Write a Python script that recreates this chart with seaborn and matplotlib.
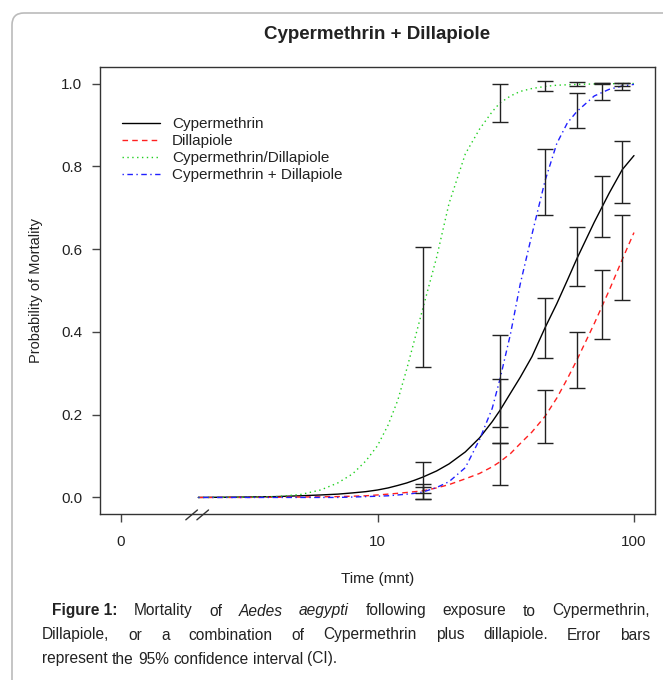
import numpy as np
import pandas as pd
import matplotlib
matplotlib.use("Agg")
import matplotlib.pyplot as plt
from matplotlib.patches import FancyBboxPatch
from matplotlib.ticker import NullLocator
from matplotlib import font_manager
import seaborn as sns

# ---------------- data ----------------
times = [2, 3, 4, 5, 6, 7, 8, 9, 10, 11, 12, 13, 14, 15, 17, 19, 22, 25, 28,
         30, 33, 36, 40, 45, 50, 55, 60, 70, 80, 90, 100]

cyp = [0.000, 0.001, 0.002, 0.004, 0.006, 0.008, 0.011, 0.014, 0.018, 0.023,
       0.029, 0.035, 0.042, 0.049, 0.064, 0.081, 0.110, 0.144, 0.183, 0.210,
       0.252, 0.290, 0.340, 0.410, 0.468, 0.525, 0.578, 0.665, 0.735, 0.792, 0.826]
dil = [0.000, 0.000, 0.0005, 0.001, 0.0015, 0.002, 0.003, 0.004, 0.006, 0.008,
       0.010, 0.012, 0.014, 0.016, 0.023, 0.031, 0.045, 0.058, 0.074, 0.086,
       0.106, 0.130, 0.158, 0.196, 0.240, 0.287, 0.333, 0.420, 0.500, 0.575, 0.640]
ratio = [0.000, 0.0005, 0.002, 0.007, 0.018, 0.035, 0.057, 0.088, 0.125, 0.175,
         0.235, 0.310, 0.385, 0.455, 0.580, 0.710, 0.830, 0.890, 0.932, 0.953,
         0.970, 0.981, 0.988, 0.993, 0.996, 0.997, 0.998, 0.999, 0.9995, 1.000, 1.000]
mix = [0.000, 0.000, 0.000, 0.000, 0.000, 0.000, 0.001, 0.002, 0.003, 0.004,
       0.006, 0.008, 0.010, 0.013, 0.024, 0.038, 0.072, 0.140, 0.215, 0.285,
       0.395, 0.515, 0.635, 0.765, 0.855, 0.905, 0.933, 0.970, 0.986, 0.994, 0.998]

# 95% CI at observation times
err_times = [15, 30, 45, 60, 75, 90]
cyp_lo = [0.010, 0.131, 0.337, 0.510, 0.629, 0.712]
cyp_hi = [0.085, 0.285, 0.482, 0.653, 0.776, 0.861]
dil_lo = [-0.003, 0.031, 0.132, 0.265, 0.382, 0.476]
dil_hi = [0.033, 0.131, 0.259, 0.399, 0.549, 0.682]
ratio_lo = [0.316, 0.907, 0.981, 0.993, 0.998, 0.995]
ratio_hi = [0.606, 1.000, 1.006, 1.004, 1.002, 1.002]
mix_lo = [-0.003, 0.169, 0.682, 0.893, 0.961, 0.984]
mix_hi = [0.025, 0.392, 0.842, 0.976, 1.002, 1.002]

labels = ["Cypermethrin", "Dillapiole", "Cypermethrin/Dillapiole", "Cypermethrin + Dillapiole"]
colors = ["black", "#ff2020", "#20d020", "#2020ff"]
styles = ["-", (0, (4, 3)), (0, (1, 2.5)), (0, (1, 2.5, 4, 2.5))]

# ---------------- style ----------------
sns.set_style("white")
plt.rcParams["font.family"] = ["Liberation Sans", "DejaVu Sans"]
INK = "#222222"

# caption font: narrow Arial-like if there is one
installed = {f.name for f in font_manager.fontManager.ttflist}
CAP_FAMILY = "Liberation Sans Narrow" if "Liberation Sans Narrow" in installed else "Liberation Sans"
CAP = 13.2 if CAP_FAMILY == "Liberation Sans Narrow" else 11.2

fig = plt.figure(figsize=(6.63, 6.8), dpi=100)
ax = fig.add_axes([100.5 / 663, 1 - 514 / 680, 554 / 663, 447 / 680])

# page frame (left/top edge of the article box)
fig.patches.append(FancyBboxPatch((0.12, -1.0), 10, 7.67,
                                  boxstyle="round,pad=0,rounding_size=0.12",
                                  transform=fig.dpi_scale_trans, fc="none",
                                  ec="#bbbbbb", lw=1.2))

# curves
for vals, lab, col, ls in zip([cyp, dil, ratio, mix], labels, colors, styles):
    sns.lineplot(x=times, y=vals, ax=ax, color=col, linestyle=ls, lw=1.0,
                 label=lab, estimator=None, sort=False)

# error bars
for lo, hi in [(cyp_lo, cyp_hi), (dil_lo, dil_hi), (ratio_lo, ratio_hi), (mix_lo, mix_hi)]:
    lo = np.array(lo)
    hi = np.array(hi)
    mid = (lo + hi) / 2
    ax.errorbar(err_times, mid, yerr=[mid - lo, hi - mid], fmt="none",
                ecolor=INK, elinewidth=1.0, capsize=5.5, capthick=1.0, zorder=5)

# axes
ax.set_xscale("log")
ax.set_xlim(10 ** -0.08, 10 ** 2.08)
ax.set_ylim(-0.04, 1.04)
ax.set_xticks([1, 10, 100])
ax.set_xticklabels(["0", "10", "100"])
ax.xaxis.set_minor_locator(NullLocator())
ax.set_yticks([0, 0.2, 0.4, 0.6, 0.8, 1.0])
ax.set_yticklabels(["0.0", "0.2", "0.4", "0.6", "0.8", "1.0"])
ax.tick_params(axis="both", direction="out", length=6, width=1, color="#444444",
               labelsize=11, labelcolor=INK, left=True, bottom=True)
ax.tick_params(axis="x", pad=9)
ax.tick_params(axis="y", pad=7)
for s in ax.spines.values():
    s.set_color("#333333")
    s.set_linewidth(1.0)

ax.set_title("Cypermethrin + Dillapiole", fontsize=13.5, fontweight="bold",
             color=INK, pad=20)
ax.set_xlabel("Time (mnt)", fontsize=11, color=INK, labelpad=17)
ax.set_ylabel("Probability of Mortality", fontsize=10.5, color=INK, labelpad=13)

# axis break marks
for x0 in [0.154, 0.174]:
    ax.plot([x0, x0 + 0.021], [-0.013, 0.009], transform=ax.transAxes,
            color="#333333", lw=1.0, clip_on=False)

leg = ax.legend(loc="upper left", bbox_to_anchor=(0.038, 0.888), frameon=False,
                fontsize=11, handlelength=2.5, handletextpad=0.8,
                labelspacing=0.2, borderpad=0, borderaxespad=0)
for t in leg.get_texts():
    t.set_color(INK)

# ---------------- caption (justified) ----------------
renderer = fig.canvas.get_renderer()
W, H = 663.0, 680.0
normal = dict(fontsize=CAP, color=INK, family=CAP_FAMILY)
bold = dict(fontsize=CAP, color=INK, family=CAP_FAMILY, fontweight="bold")
ital = dict(fontsize=CAP, color=INK, family=CAP_FAMILY, fontstyle="italic")


def width_of(word, kw):
    t = fig.text(0, 0, word, **kw)
    w = t.get_window_extent(renderer).width
    t.remove()
    return w


def caption_line(words, x0, x1, y, justify=True):
    ws = [width_of(w, kw) for w, kw in words]
    if justify:
        gap = (x1 - x0 - sum(ws)) / (len(words) - 1)
    else:
        gap = width_of("a b", normal) - width_of("ab", normal)
    x = x0
    for (w, kw), wd in zip(words, ws):
        fig.text(x / W, 1 - y / H, w, ha="left", va="center", **kw)
        x += wd + gap


line1 = [("Figure 1:", bold), ("Mortality", normal), ("of", normal),
         ("Aedes", ital), ("aegypti", ital), ("following", normal),
         ("exposure", normal), ("to", normal), ("Cypermethrin,", normal)]
line2 = [(w, normal) for w in
         "Dillapiole, or a combination of Cypermethrin plus dillapiole. Error bars".split()]
line3 = [(w, normal) for w in "represent the 95% confidence interval (CI).".split()]

caption_line(line1, 52, 650, 611)
caption_line(line2, 42, 650, 635)
caption_line(line3, 42, 650, 659, justify=False)

fig.savefig("out.png", dpi=100)
